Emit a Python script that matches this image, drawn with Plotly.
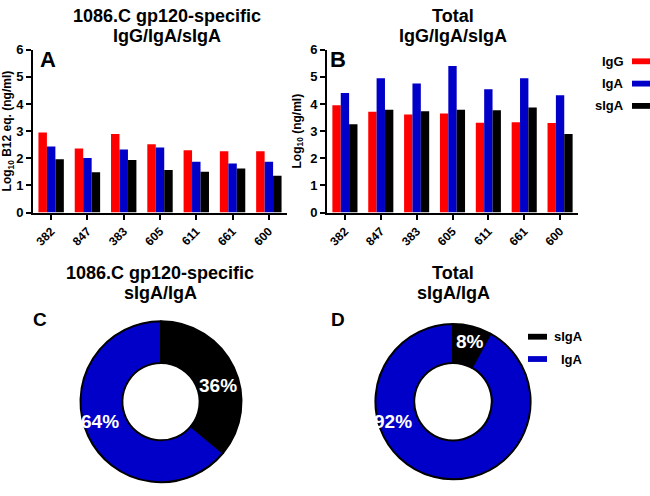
import plotly.graph_objects as go

# ---------------- data ----------------
animals = ["382", "847", "383", "605", "611", "661", "600"]
series_names = ["IgG", "IgA", "sIgA"]
series_colors = ["#FF0000", "#0000C8", "#000000"]

specific_IgG = [2.95, 2.36, 2.89, 2.52, 2.30, 2.26, 2.26]
specific_IgA = [2.43, 2.01, 2.32, 2.40, 1.87, 1.81, 1.87]
specific_sIgA = [1.96, 1.49, 1.94, 1.57, 1.50, 1.62, 1.36]

total_IgG = [3.95, 3.71, 3.61, 3.65, 3.31, 3.33, 3.30]
total_IgA = [4.40, 4.95, 4.75, 5.40, 4.54, 4.95, 4.32]
total_sIgA = [3.25, 3.79, 3.73, 3.79, 3.77, 3.87, 2.89]

pie_labels = ["sIgA", "IgA"]
pie_colors = ["#000000", "#0000C8"]
specific_pct = [36, 64]
total_pct = [8, 92]

W, H = 650, 496
FONT = "Liberation Sans, Arial, sans-serif"


def px(x):
    return x / W


def py(y):
    return 1 - y / H


fig = go.Figure()

# ---------------- bar panels ----------------
for vals, name, col in zip([specific_IgG, specific_IgA, specific_sIgA], series_names, series_colors):
    fig.add_trace(go.Bar(x=animals, y=vals, name=name, marker=dict(color=col, line=dict(width=0)),
                         xaxis="x", yaxis="y", showlegend=False))
for vals, name, col in zip([total_IgG, total_IgA, total_sIgA], series_names, series_colors):
    fig.add_trace(go.Bar(x=animals, y=vals, name=name, marker=dict(color=col, line=dict(width=0)),
                         xaxis="x2", yaxis="y2", showlegend=False))

# ---------------- donuts ----------------
fig.add_trace(go.Pie(labels=pie_labels, values=specific_pct, sort=False, direction="clockwise",
                     rotation=0, hole=0.48, textinfo="none",
                     marker=dict(colors=pie_colors, line=dict(color="black", width=2)),
                     domain=dict(x=[px(78), px(244)], y=[py(490), py(324)]), showlegend=False))
fig.add_trace(go.Pie(labels=pie_labels, values=total_pct, sort=False, direction="clockwise",
                     rotation=0, hole=0.5, textinfo="none",
                     marker=dict(colors=pie_colors, line=dict(color="black", width=2)),
                     domain=dict(x=[px(373), px(533)], y=[py(487), py(327)]), showlegend=False))

axis_common = dict(showline=True, linewidth=2, linecolor="black", ticks="outside", ticklen=5,
                   tickwidth=2, tickcolor="black", showgrid=False, zeroline=False,
                   tickfont=dict(family=FONT, size=13, color="black", weight="bold"))

xcommon = dict(axis_common, type="category", range=[-0.5, 6.5], tickangle=-45,
               tickfont=dict(family=FONT, size=12, color="black", weight="bold"))
ycommon = dict(axis_common, range=[0, 6], dtick=1, tick0=0)

fig.update_layout(
    width=W, height=H,
    margin=dict(l=0, r=0, t=0, b=0),
    paper_bgcolor="white", plot_bgcolor="white",
    barmode="group", bargap=0.3, bargroupgap=0,
    font=dict(family=FONT, color="black"),
    xaxis=dict(xcommon, domain=[px(33), px(287)], anchor="y"),
    yaxis=dict(ycommon, domain=[py(212), py(44)], anchor="x",
               title=dict(text="Log<sub>10</sub> B12 eq. (ng/ml)", standoff=6,
                          font=dict(family=FONT, size=12, color="black", weight="bold"))),
    xaxis2=dict(xcommon, domain=[px(327), px(578)], anchor="y2"),
    yaxis2=dict(ycommon, domain=[py(212), py(44)], anchor="x2",
                title=dict(text="Log<sub>10</sub> (ng/ml)", standoff=6,
                           font=dict(family=FONT, size=12, color="black", weight="bold"))),
)

ann = []


def text(x, y, s, size, color="black", xanchor="center"):
    ann.append(dict(x=px(x), y=py(y), xref="paper", yref="paper", text=s, showarrow=False,
                    xanchor=xanchor, yanchor="middle",
                    font=dict(family=FONT, size=size, color=color, weight="bold")))


# titles
text(167, 9, "1086.C gp120-specific", 18)
text(167, 30, "IgG/IgA/sIgA", 18)
text(453, 9, "Total", 18)
text(453, 30, "IgG/IgA/sIgA", 18)
text(160, 274, "1086.C gp120-specific", 18)
text(160, 295, "sIgA/IgA", 18)
text(453, 274, "Total", 18)
text(453, 295, "sIgA/IgA", 18)

# panel letters
text(48, 54, "A", 22)
text(338, 54, "B", 22)
text(40, 322, "C", 19)
text(338, 322, "D", 19)

# donut percentage labels
text(218, 390, f"{specific_pct[0]}%", 19, "white")
text(100, 427, f"{specific_pct[1]}%", 19, "white")
text(470, 345, f"{total_pct[0]}%", 19, "white")
text(393, 427, f"{total_pct[1]}%", 19, "white")

# legend for bar panels (text left of swatch)
shapes = []
for i, (name, col) in enumerate(zip(series_names, series_colors)):
    yc = 56 + i * 23
    text(626, yc, name, 13, xanchor="right")
    shapes.append(dict(type="rect", xref="paper", yref="paper", x0=px(632), x1=px(650),
                       y0=py(yc + 3), y1=py(yc - 3), fillcolor=col, line=dict(width=0)))

# legend for donut D (swatch left of text)
for i, (name, col) in enumerate(zip(pie_labels, pie_colors)):
    yc = 340 + i * 23
    text(552 if i == 0 else 559, yc, name, 13, xanchor="left")
    shapes.append(dict(type="rect", xref="paper", yref="paper", x0=px(528), x1=px(547),
                       y0=py(yc + 3), y1=py(yc - 3), fillcolor=col, line=dict(width=0)))

fig.update_layout(annotations=ann, shapes=shapes)

fig.write_html("out.html", config={"displayModeBar": False},
               post_script="document.body.style.margin='0';document.body.style.overflow='hidden';")
